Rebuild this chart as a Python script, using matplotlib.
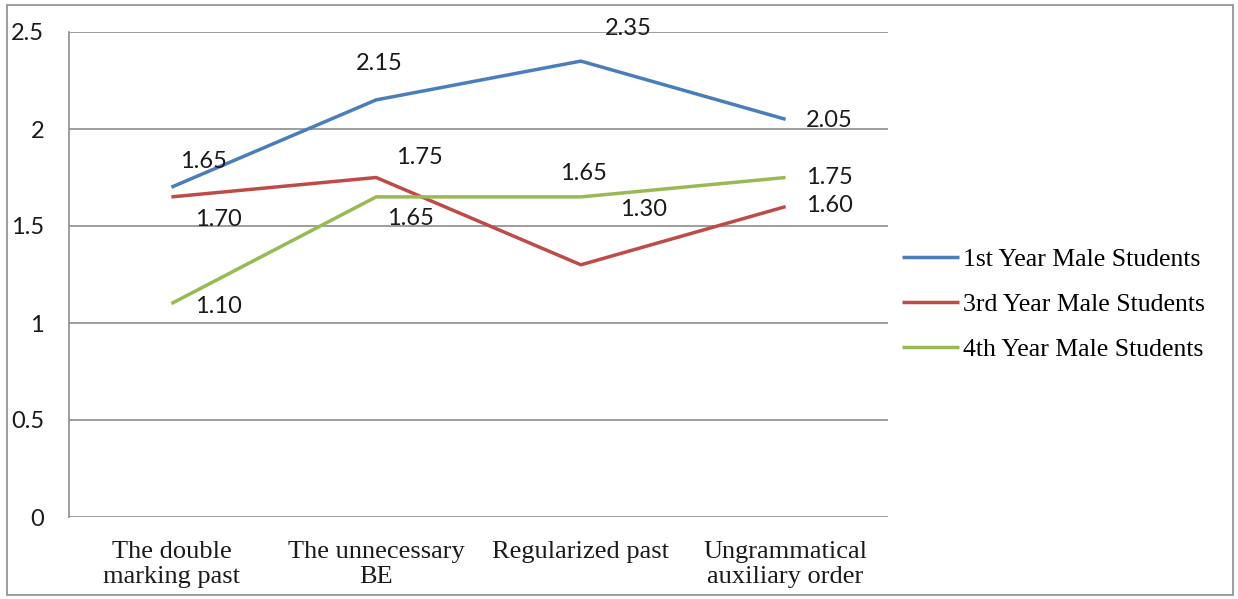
import matplotlib
matplotlib.use("Agg")
import matplotlib.pyplot as plt
from matplotlib.patches import Rectangle

categories = ["The double\nmarking past", "The unnecessary\nBE", "Regularized past", "Ungrammatical\nauxiliary order"]
series_names = ["1st Year Male Students", "3rd Year Male Students", "4th Year Male Students"]
first_year = [1.70, 2.15, 2.35, 2.05]
third_year = [1.65, 1.75, 1.30, 1.60]
fourth_year = [1.10, 1.65, 1.65, 1.75]
first_labels = ["1.65", "2.15", "2.35", "2.05"]
third_labels = ["1.70", "1.75", "1.30", "1.60"]
fourth_labels = ["1.10", "1.65", "1.65", "1.75"]
yticks = [0, 0.5, 1, 1.5, 2, 2.5]
ytick_labels = ["0", "0.5", "1", "1.5", "2", "2.5"]

colors = ["#4A7EBB", "#BE4B48", "#98B954"]
offsets = [
    [(32, 26), (3, 36), (47, 33), (44, -1)],
    [(47, -23), (43, 20), (63, 55), (44, 1)],
    [(47, -3), (34, -22), (3, 23), (44, 0)],
]

fig = plt.figure(figsize=(12.38, 5.99), dpi=100)
ax = fig.add_axes([69/1238, 1-517/599, (888-69)/1238, (517-32)/599])

x = list(range(len(categories)))
all_series = [first_year, third_year, fourth_year]
all_labels = [first_labels, third_labels, fourth_labels]
num_font = "Lato"
for vals, labs, col, name, offs in zip(all_series, all_labels, colors, series_names, offsets):
    ax.plot(x, vals, color=col, lw=2.5, label=name, solid_capstyle="butt", zorder=3)
    for xi, v, t, o in zip(x, vals, labs, offs):
        ax.annotate(t, xy=(xi, v), xytext=o, textcoords="offset pixels",
                    ha="center", va="center", fontsize=17, family=num_font,
                    color="#1a1a1a", zorder=4)

ax.set_xlim(-0.5, len(categories) - 0.5)
ax.set_ylim(0, 2.5)
ax.set_yticks(yticks)
ax.set_yticklabels(ytick_labels, family=num_font, fontsize=17, color="#1a1a1a")
ax.set_xticks(x)
ax.set_xticklabels(categories, family="Liberation Serif", fontsize=19, color="#1a1a1a",
                   linespacing=1.2)
ax.tick_params(axis="y", length=0, pad=18)
ax.tick_params(axis="x", length=0, pad=17)
ax.yaxis.grid(True, color="#8c8c8c", lw=1.2)
ax.set_axisbelow(True)
for s in ["top", "right", "bottom"]:
    ax.spines[s].set_visible(False)
ax.spines["left"].set_color("#8c8c8c")
ax.spines["left"].set_linewidth(1.2)

leg = ax.legend(loc="upper left", bbox_to_anchor=(879/1238, 1-225/599),
                bbox_transform=fig.transFigure, frameon=False,
                prop={"family": "Liberation Serif", "size": 18.5},
                handlelength=2.2, handletextpad=0.15, labelspacing=0.86)

fig.patches.append(Rectangle((7/1238, 4/599), (1233-7)/1238, (594-4)/599,
                             transform=fig.transFigure, fill=False,
                             edgecolor="#8c8c8c", lw=1.2))

fig.savefig("out.png", dpi=100)
